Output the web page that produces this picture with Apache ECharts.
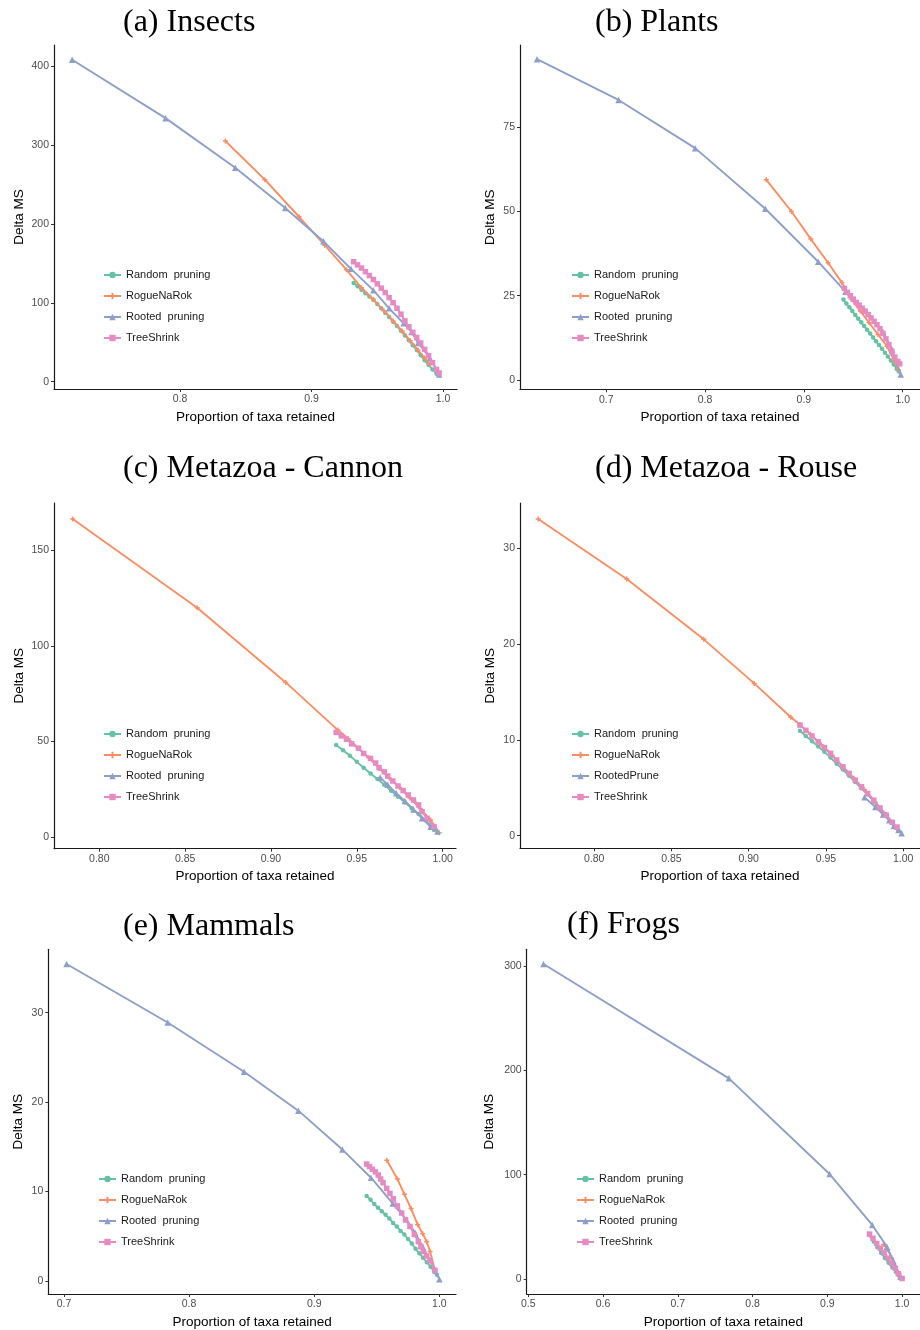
<!DOCTYPE html>
<html>
<head>
<meta charset="utf-8">
<title>Delta MS vs proportion of taxa retained</title>
<script src="https://cdn.jsdelivr.net/npm/echarts@6/dist/echarts.min.js"></script>
<style>
  html, body { margin: 0; padding: 0; background: #ffffff; }
  #chart { width: 920px; height: 1330px; }
</style>
</head>
<body>
<div id="chart"></div>
<script>
// ---- Panel titles and legend labels ----
const panelTitles = ['(a) Insects', '(b) Plants', '(c) Metazoa - Cannon', '(d) Metazoa - Rouse', '(e) Mammals', '(f) Frogs'];
const methodNames = ['Random  pruning', 'RogueNaRok', 'Rooted  pruning', 'TreeShrink'];
const rootedNameRouse = 'RootedPrune';

// ---- Tick values per panel ----
const xTicksA = [0.8, 0.9, 1.0];
const yTicksA = [0, 100, 200, 300, 400];
const xTicksB = [0.7, 0.8, 0.9, 1.0];
const yTicksB = [0, 25, 50, 75];
const xTicksC = [0.80, 0.85, 0.90, 0.95, 1.00];
const yTicksC = [0, 50, 100, 150];
const xTicksD = [0.80, 0.85, 0.90, 0.95, 1.00];
const yTicksD = [0, 10, 20, 30];
const xTicksE = [0.7, 0.8, 0.9, 1.0];
const yTicksE = [0, 10, 20, 30];
const xTicksF = [0.5, 0.6, 0.7, 0.8, 0.9, 1.0];
const yTicksF = [0, 100, 200, 300];

// ---- (a) Insects: [proportion retained, delta MS] ----
const insectsRandom = [[0.932,125],[0.935,121],[0.938,116.5],[0.941,112],[0.944,108],[0.947,103.5],[0.950,98.5],[0.953,93],[0.956,87.5],[0.959,82],[0.962,76],[0.965,70.5],[0.968,64.5],[0.971,58.5],[0.974,52.5],[0.977,46],[0.980,40],[0.983,33.5],[0.986,27],[0.989,21],[0.992,15.5],[0.995,10]];
const insectsRogue = [[0.8345,305],[0.8645,256],[0.8905,209],[0.910,173],[0.9265,142],[0.938,119],[0.947,104],[0.955,90],[0.962,77],[0.969,64],[0.975,52],[0.981,40],[0.986,30],[0.990,22]];
const insectsRooted = [[0.718,408],[0.789,334],[0.842,271],[0.880,220],[0.909,178],[0.930,143],[0.947,116],[0.959,93],[0.970,74],[0.976,63],[0.981,49],[0.990,30],[0.997,9]];
const insectsTree = [[0.932,152],[0.935,148],[0.938,144],[0.941,139.5],[0.944,134.5],[0.947,129.5],[0.950,124],[0.953,118.5],[0.956,113],[0.959,106.5],[0.962,100],[0.965,93],[0.968,85.5],[0.971,77],[0.974,69.5],[0.977,62.5],[0.980,56],[0.983,49],[0.986,41],[0.989,33],[0.992,24],[0.995,15.5],[0.997,11]];

// ---- (b) Plants ----
const plantsRandom = [[0.940,23.9],[0.943,22.7],[0.946,21.6],[0.949,20.5],[0.952,19.3],[0.955,18.2],[0.958,17.1],[0.961,16],[0.964,14.9],[0.967,13.8],[0.970,12.6],[0.973,11.5],[0.976,10.4],[0.979,9.3],[0.982,8.1],[0.985,7],[0.988,5.8],[0.991,4.6],[0.994,3.3],[0.996,2.5]];
const plantsRogue = [[0.862,59.4],[0.8875,50],[0.907,41.8],[0.9245,34.8],[0.9385,28.9],[0.948,24],[0.957,20.5],[0.966,17],[0.975,13.5],[0.984,10],[0.991,6],[0.996,3]];
const plantsRooted = [[0.630,95.2],[0.7125,83.1],[0.790,68.8],[0.861,50.8],[0.9145,35.1],[0.942,26.2],[0.9615,20.8],[0.980,14.3],[0.9895,8.9],[0.998,1.6]];
const plantsTree = [[0.941,27.2],[0.944,26],[0.947,25],[0.950,24],[0.953,23],[0.956,22.2],[0.959,21.3],[0.962,20.4],[0.965,19.4],[0.968,18.4],[0.971,17.4],[0.974,16.4],[0.977,15.2],[0.980,13.8],[0.983,12.2],[0.986,10.5],[0.989,8.5],[0.992,6.8],[0.995,5.5],[0.997,4.8]];

// ---- (c) Metazoa - Cannon ----
const cannonRandom = [[0.938,48.2],[0.942,45.5],[0.946,42.6],[0.950,39.4],[0.954,36.3],[0.958,33.3],[0.962,30.4],[0.966,27.5],[0.970,24.3],[0.974,21.2],[0.978,18.3],[0.982,15.2],[0.986,12.2],[0.990,9],[0.993,6.2],[0.995,3.8]];
const cannonRogue = [[0.7845,166.2],[0.857,119.9],[0.9086,80.9],[0.939,56],[0.945,51.5],[0.951,46.5],[0.957,41.5],[0.963,36],[0.969,31],[0.975,26],[0.981,20.5],[0.987,15],[0.993,9],[0.998,2.4]];
const cannonRooted = [[0.9636,31.3],[0.968,27.5],[0.973,23],[0.978,19],[0.983,14.5],[0.988,10],[0.993,5.5],[0.997,3]];
const cannonTree = [[0.938,54.8],[0.941,53],[0.944,51.2],[0.947,48.8],[0.951,46.5],[0.954,43.8],[0.958,41.2],[0.961,38.8],[0.963,36.4],[0.966,34.2],[0.968,32],[0.971,29.4],[0.974,26.8],[0.977,24.4],[0.980,22.1],[0.983,19.5],[0.986,16.9],[0.988,13.4],[0.991,9.9],[0.995,5.6]];

// ---- (d) Metazoa - Rouse ----
const rouseRandom = [[0.9332,10.96],[0.937,10.4],[0.941,9.85],[0.945,9.3],[0.949,8.75],[0.953,8.15],[0.957,7.5],[0.961,6.9],[0.965,6.25],[0.969,5.6],[0.973,4.95],[0.977,4.3],[0.981,3.55],[0.985,2.8],[0.989,2.05],[0.993,1.3],[0.997,0.5]];
const rouseRogue = [[0.7638,33.07],[0.8211,26.8],[0.8709,20.5],[0.9036,15.9],[0.9273,12.36],[0.9331,11.6],[0.940,10.6],[0.947,9.5],[0.954,8.4],[0.961,7.2],[0.968,6.0],[0.975,4.8],[0.982,3.5],[0.989,2.2],[0.996,0.7]];
const rouseRooted = [[0.975,4.0],[0.982,3.0],[0.987,2.2],[0.991,1.6],[0.994,1.0],[0.997,0.6],[0.999,0.25]];
const rouseTree = [[0.9332,11.55],[0.937,11.0],[0.941,10.4],[0.945,9.8],[0.949,9.2],[0.953,8.6],[0.957,7.9],[0.961,7.2],[0.965,6.5],[0.969,5.8],[0.973,5.1],[0.977,4.4],[0.981,3.7],[0.985,2.9],[0.989,2.15],[0.993,1.4],[0.996,0.9]];

// ---- (e) Mammals ----
const mammalsRandom = [[0.9419,9.5],[0.945,9.1],[0.948,8.6],[0.951,8.2],[0.954,7.8],[0.957,7.4],[0.960,7.0],[0.963,6.5],[0.966,6.1],[0.969,5.6],[0.972,5.2],[0.975,4.7],[0.978,4.2],[0.981,3.6],[0.984,3.1],[0.987,2.6],[0.990,2.1],[0.993,1.6],[0.996,1.0],[0.998,0.7]];
const mammalsRogue = [[0.958,13.5],[0.9665,11.4],[0.9721,9.7],[0.9774,8.1],[0.9827,6.3],[0.9867,5.3],[0.9899,4.4],[0.9926,3.3],[0.9963,1.3]];
const mammalsRooted = [[0.7021,35.45],[0.7829,28.9],[0.8439,23.4],[0.8873,19.05],[0.9225,14.7],[0.9454,11.55],[0.9627,8.68],[0.9734,6.9],[0.9806,5.4],[0.9865,3.9],[0.9925,2.35],[1.0,0.2]];
const mammalsTree = [[0.9419,13.08],[0.9442,12.8],[0.9465,12.5],[0.9489,12.2],[0.9512,11.85],[0.9531,11.4],[0.955,11.0],[0.9579,10.36],[0.9605,9.8],[0.9632,9.2],[0.9665,8.4],[0.9699,7.6],[0.973,6.85],[0.9765,6.1],[0.980,5.2],[0.9832,4.4],[0.9852,3.85],[0.9872,3.3],[0.9898,2.8],[0.9925,2.3],[0.9965,1.2]];

// ---- (f) Frogs ----
const frogsRandom = [[0.9565,42],[0.962,36],[0.967,30.5],[0.972,25],[0.977,20],[0.982,15.5],[0.987,11],[0.992,6.5],[0.996,3],[1.0,0.5]];
const frogsRogue = [[0.975,33],[0.981,28],[0.986,20],[0.991,12],[0.996,5],[1.0,0.5]];
const frogsRooted = [[0.5204,301.9],[0.7683,192.3],[0.903,100.6],[0.960,51.8],[0.9796,31],[0.9885,17],[0.9978,2.2]];
const frogsTree = [[0.9565,43],[0.961,39],[0.966,34],[0.971,29.5],[0.976,25],[0.981,20],[0.986,15],[0.991,10],[0.995,5],[1.0,0.5]];

// ---- Drawing ----
const COLORS = ['#66c2a5', '#fc8d62', '#8da0cb', '#e78ac3'];
const SYMBOLS = ['circle', 'path://M3.5,0H6.5V3.5H10V6.5H6.5V10H3.5V6.5H0V3.5H3.5Z', 'triangle', 'rect'];
const SYMBOL_SIZES = [4.5, 5, 6.5, 5.5];
const SANS = '"Liberation Sans", Arial, Helvetica, sans-serif';
const SERIF = '"Liberation Serif", "Times New Roman", Times, serif';

const panels = [
  { grid: { left: 54, top: 45, width: 403, height: 344 }, x: [0.7042, 1.0106], y: [-9.3, 426.7],
    xTicks: xTicksA, yTicks: yTicksA, xDec: 1, title: [123, 7], legend: [103, 269], yGap: 28,
    data: [insectsRandom, insectsRogue, insectsRooted, insectsTree], names: methodNames },
  { grid: { left: 520, top: 45, width: 410, height: 344.3 }, x: [0.6128, 1.0175], y: [-2.76, 99.4],
    xTicks: xTicksB, yTicks: yTicksB, xDec: 1, title: [595, 7], legend: [571, 269], yGap: 23,
    data: [plantsRandom, plantsRogue, plantsRooted, plantsTree], names: methodNames },
  { grid: { left: 54, top: 503, width: 402, height: 345.7 }, x: [0.7736, 1.0078], y: [-5.95, 174.6],
    xTicks: xTicksC, yTicks: yTicksC, xDec: 2, title: [123, 453], legend: [103, 728], yGap: 28,
    data: [cannonRandom, cannonRogue, cannonRooted, cannonTree], names: methodNames },
  { grid: { left: 520, top: 503, width: 410, height: 345.3 }, x: [0.752, 1.0109], y: [-1.32, 34.74],
    xTicks: xTicksD, yTicks: yTicksD, xDec: 2, title: [595, 453], legend: [571, 728], yGap: 23,
    data: [rouseRandom, rouseRogue, rouseRooted, rouseTree],
    names: [methodNames[0], methodNames[1], rootedNameRouse, methodNames[3]] },
  { grid: { left: 48.3, top: 949.3, width: 407.7, height: 344.7 }, x: [0.6875, 1.0133], y: [-1.45, 37.09],
    xTicks: xTicksE, yTicks: yTicksE, xDec: 1, title: [123, 911], legend: [98, 1173], yGap: 23,
    data: [mammalsRandom, mammalsRogue, mammalsRooted, mammalsTree], names: methodNames },
  { grid: { left: 526.7, top: 949.3, width: 403.3, height: 344.7 }, x: [0.4979, 1.0239], y: [-14.4, 316],
    xTicks: xTicksF, yTicks: yTicksF, xDec: 1, title: [567, 909], legend: [576, 1173], yGap: 30,
    data: [frogsRandom, frogsRogue, frogsRooted, frogsTree], names: methodNames }
];

const option = {
  backgroundColor: '#ffffff',
  animation: false,
  title: [], grid: [], xAxis: [], yAxis: [], legend: [], series: []
};

const axisLineStyle = { color: '#1a1a1a', width: 1.2 };

panels.forEach((p, i) => {
  option.title.push({
    text: panelTitles[i], left: p.title[0], top: p.title[1], padding: 0,
    textStyle: { fontFamily: SERIF, fontSize: 32, fontWeight: 'normal', color: '#000000' }
  });
  option.grid.push(Object.assign({ containLabel: false }, p.grid));
  option.xAxis.push({
    type: 'value', gridIndex: i, min: p.x[0], max: p.x[1],
    name: 'Proportion of taxa retained', nameLocation: 'middle', nameGap: 21,
    nameTextStyle: { fontFamily: SANS, fontSize: 13.5, color: '#000000' },
    axisLine: { show: true, onZero: false, lineStyle: axisLineStyle },
    axisTick: { show: true, length: 3, lineStyle: { color: '#333333' }, customValues: p.xTicks },
    axisLabel: { fontFamily: SANS, fontSize: 10.5, color: '#4d4d4d', margin: 5,
      customValues: p.xTicks, formatter: (v) => Number(v).toFixed(p.xDec) },
    splitLine: { show: false }
  });
  option.yAxis.push({
    type: 'value', gridIndex: i, min: p.y[0], max: p.y[1],
    name: 'Delta MS', nameLocation: 'middle', nameGap: p.yGap,
    nameTextStyle: { fontFamily: SANS, fontSize: 13.5, color: '#000000' },
    axisLine: { show: true, onZero: false, lineStyle: axisLineStyle },
    axisTick: { show: true, length: 3, lineStyle: { color: '#333333' }, customValues: p.yTicks },
    axisLabel: { fontFamily: SANS, fontSize: 10.5, color: '#4d4d4d', margin: 5,
      customValues: p.yTicks, formatter: (v) => String(Math.round(v)) },
    splitLine: { show: false }
  });
  option.legend.push({
    left: p.legend[0], top: p.legend[1], orient: 'vertical', padding: 0,
    itemWidth: 17, itemHeight: 8, itemGap: 9, selectedMode: false,
    data: p.names.slice(),
    textStyle: { fontFamily: SANS, fontSize: 11, lineHeight: 12, color: '#1a1a1a' }
  });
  p.data.forEach((d, k) => {
    option.series.push({
      type: 'line', name: p.names[k], xAxisIndex: i, yAxisIndex: i, data: d,
      symbol: SYMBOLS[k], symbolSize: SYMBOL_SIZES[k], showSymbol: true,
      itemStyle: { color: COLORS[k] },
      lineStyle: { color: COLORS[k], width: 1.9 },
      emphasis: { disabled: true }, silent: true, z: 2 + k
    });
  });
});

const chart = echarts.init(document.getElementById('chart'), null, { renderer: 'canvas' });
chart.setOption(option);
</script>
</body>
</html>
